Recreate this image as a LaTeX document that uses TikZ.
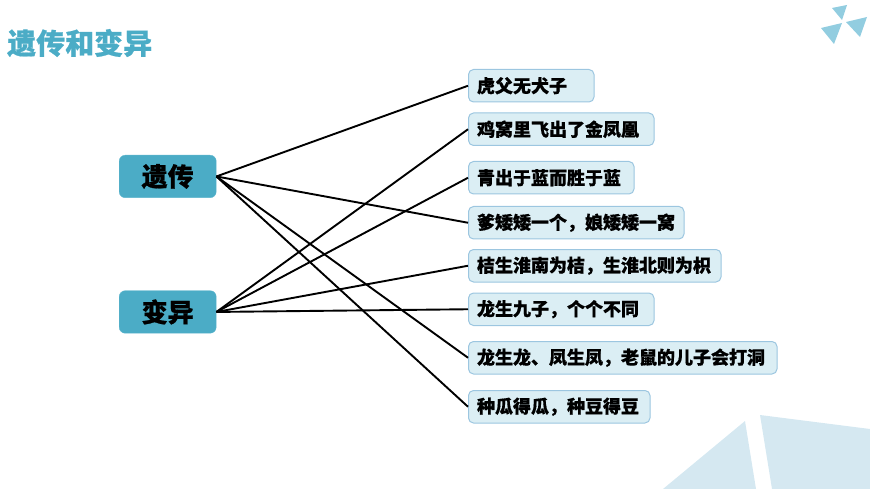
\documentclass[tikz,border=0pt]{standalone}
\usepackage{fontspec}
\newfontfamily\cjk[BoldFeatures={FakeBold=0.6}]{Noto Sans CJK SC}
\usepackage{xcolor}
\usetikzlibrary{positioning}
\definecolor{titleblue}{HTML}{4BACC6}
\definecolor{rootfill}{HTML}{4BACC6}
\definecolor{rootline}{HTML}{5FB6CE}
\definecolor{leaffill}{HTML}{DBEEF4}
\definecolor{leafline}{HTML}{9CC6E0}
\definecolor{triblue}{HTML}{92CDE0}
\definecolor{paleblue}{HTML}{D5E8F1}
\tikzset{
  rootbox/.style={draw=rootline, fill=rootfill, rounded corners=6pt, anchor=north west, minimum width=97pt, minimum height=42.5pt, inner sep=0pt, font=\cjk\bfseries\fontsize{26}{26}\selectfont},
  leafbox/.style={draw=leafline, line width=1pt, fill=leaffill, rounded corners=5pt, anchor=north west, minimum height=32.5pt, inner xsep=8.5pt, inner ysep=0pt, align=left, text width=#1-17.5pt, font=\cjk\bfseries\fontsize{18}{18}\selectfont},
  link/.style={draw=black, line width=1.9pt}
}
\begin{document}
\begin{tikzpicture}[x=1pt,y=-1pt]
  \useasboundingbox (0,0) rectangle (870,489);
  % corner decoration
  \fill[triblue] (832,8) -- (847,5) -- (842,20) -- cycle;
  \fill[triblue] (821,28) -- (842,23) -- (834,44) -- cycle;
  \fill[triblue] (846,22) -- (867,17) -- (860,37) -- cycle;
  \fill[paleblue] (663,489) -- (745,421) -- (756,489) -- cycle;
  \fill[paleblue] (760,415) -- (870,429) -- (870,489) -- (772,489) -- cycle;
  % title
  \node[anchor=west, inner sep=0pt, text=titleblue, font=\cjk\bfseries\fontsize{29}{29}\selectfont] (title) at (7,43) {遗传和变异};
  % left boxes
  \node[rootbox] (heredity) at (119,155) {遗传};
  \node[rootbox] (variation) at (119,290.5) {变异};
  % right boxes
  \foreach \name/\y/\w/\txt in {a/69/126/虎父无犬子, b/112.5/186/鸡窝里飞出了金凤凰, c/161/166/青出于蓝而胜于蓝, d/206/216/爹矮矮一个，娘矮矮一窝, e/249/253/桔生淮南为桔，生淮北则为枳, f/292.5/186/龙生九子，个个不同, g/341/309/龙生龙、凤生凤，老鼠的儿子会打洞, h/390/182/种瓜得瓜，种豆得豆}{
    \node[leafbox=\w pt] (\name) at (468,\y) {\txt};
  }
  % links
  \foreach \to in {a,d,g,h}{\draw[link] (heredity.east) -- (\to.west);}
  \foreach \to in {b,c,e,f}{\draw[link] (variation.east) -- (\to.west);}
\end{tikzpicture}
\end{document}
